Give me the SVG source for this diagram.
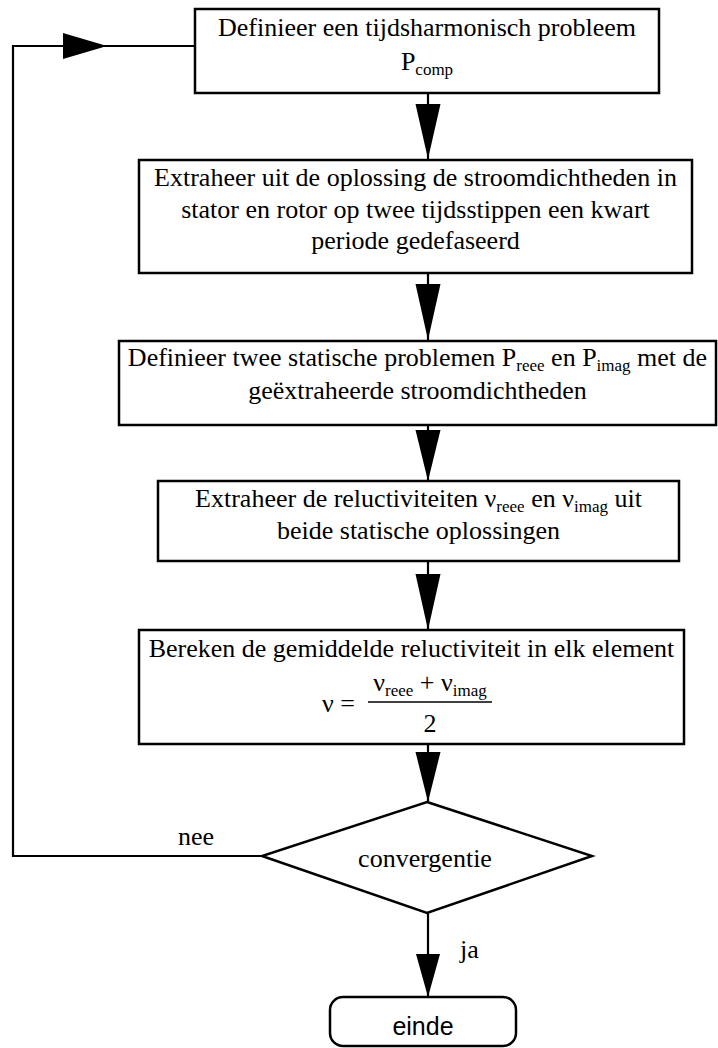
<svg xmlns="http://www.w3.org/2000/svg" width="718" height="1048" viewBox="0 0 718 1048">
<style>
.box{fill:#fff;stroke:#000;stroke-width:2.5}
.ln{fill:none;stroke:#000;stroke-width:2.2}
.ah{fill:#000;stroke:none}
.t{font-family:"Liberation Serif","Times New Roman",serif;font-size:26px;fill:#000;text-anchor:middle}
.tl{font-family:"Liberation Serif","Times New Roman",serif;font-size:26px;fill:#000}
.s{font-size:17px}
.sans{font-family:"Liberation Sans",Arial,sans-serif;font-size:25px;fill:#000;text-anchor:middle}
</style>
<rect width="718" height="1048" fill="#fff"/>
<g id="connectors">
<polyline class="ln" points="262,856 13,856 13,46 195,46"/>
<polygon class="ah" points="63,33 107,46 63,59"/>
<line class="ln" x1="428" y1="93" x2="428" y2="159"/>
<polygon class="ah" points="415.5,104 440.5,104 428,159"/>
<line class="ln" x1="428" y1="273" x2="428" y2="341"/>
<polygon class="ah" points="415.5,284 440.5,284 428,340"/>
<line class="ln" x1="428" y1="425" x2="428" y2="481"/>
<polygon class="ah" points="415.5,430 440.5,430 428,481"/>
<line class="ln" x1="428" y1="561" x2="428" y2="630"/>
<polygon class="ah" points="415.5,574 440.5,574 428,630"/>
<line class="ln" x1="428" y1="744" x2="428" y2="802"/>
<polygon class="ah" points="415.5,752 440.5,752 428,802"/>
<line class="ln" x1="428" y1="913" x2="428" y2="997"/>
<polygon class="ah" points="416,954 440,954 428,997"/>
<text class="tl" x="178" y="845">nee</text>
<text class="tl" x="460" y="958">ja</text>
</g>
<g id="n1">
<rect class="box" x="195" y="9" width="464" height="84"/>
<text class="t" x="427" y="36">Definieer een tijdsharmonisch probleem</text>
<text class="t" x="427" y="70">P<tspan class="s" dy="5">comp</tspan></text>
</g>
<g id="n2">
<rect class="box" x="139" y="160" width="553" height="113"/>
<text class="t" x="415.5" y="186">Extraheer uit de oplossing de stroomdichtheden in</text>
<text class="t" x="415.5" y="218">stator en rotor op twee tijdsstippen een kwart</text>
<text class="t" x="415.5" y="249">periode gedefaseerd</text>
</g>
<g id="n3">
<rect class="box" x="119" y="341" width="597" height="84"/>
<text class="t" x="417.5" y="366">Definieer twee statische problemen P<tspan class="s" dy="5">reee</tspan><tspan dy="-5"> en P</tspan><tspan class="s" dy="5">imag</tspan><tspan dy="-5"> met de</tspan></text>
<text class="t" x="417.5" y="399">geëxtraheerde stroomdichtheden</text>
</g>
<g id="n4">
<rect class="box" x="158" y="481" width="521" height="80"/>
<text class="t" x="418.5" y="507">Extraheer de reluctiviteiten ν<tspan class="s" dy="5">reee</tspan><tspan dy="-5"> en ν</tspan><tspan class="s" dy="5">imag</tspan><tspan dy="-5"> uit</tspan></text>
<text class="t" x="418.5" y="539">beide statische oplossingen</text>
</g>
<g id="n5">
<rect class="box" x="139" y="630" width="545" height="114"/>
<text class="t" x="411.5" y="657">Bereken de gemiddelde reluctiviteit in elk element</text>
<text class="tl" x="322" y="712">ν =</text>
<text class="t" x="430" y="691">ν<tspan class="s" dy="5">reee</tspan><tspan dy="-5"> + ν</tspan><tspan class="s" dy="5">imag</tspan></text>
<line x1="368" y1="702" x2="492" y2="702" stroke="#000" stroke-width="1.5"/>
<text class="t" x="430" y="732">2</text>
</g>
<g id="n6">
<polygon class="box" points="427,802 592,856 427,913 262,856"/>
<text class="t" x="425" y="867">convergentie</text>
</g>
<g id="n7">
<rect class="box" x="330" y="997" width="186" height="49" rx="13"/>
<text class="sans" x="423" y="1035">einde</text>
</g>
</svg>
